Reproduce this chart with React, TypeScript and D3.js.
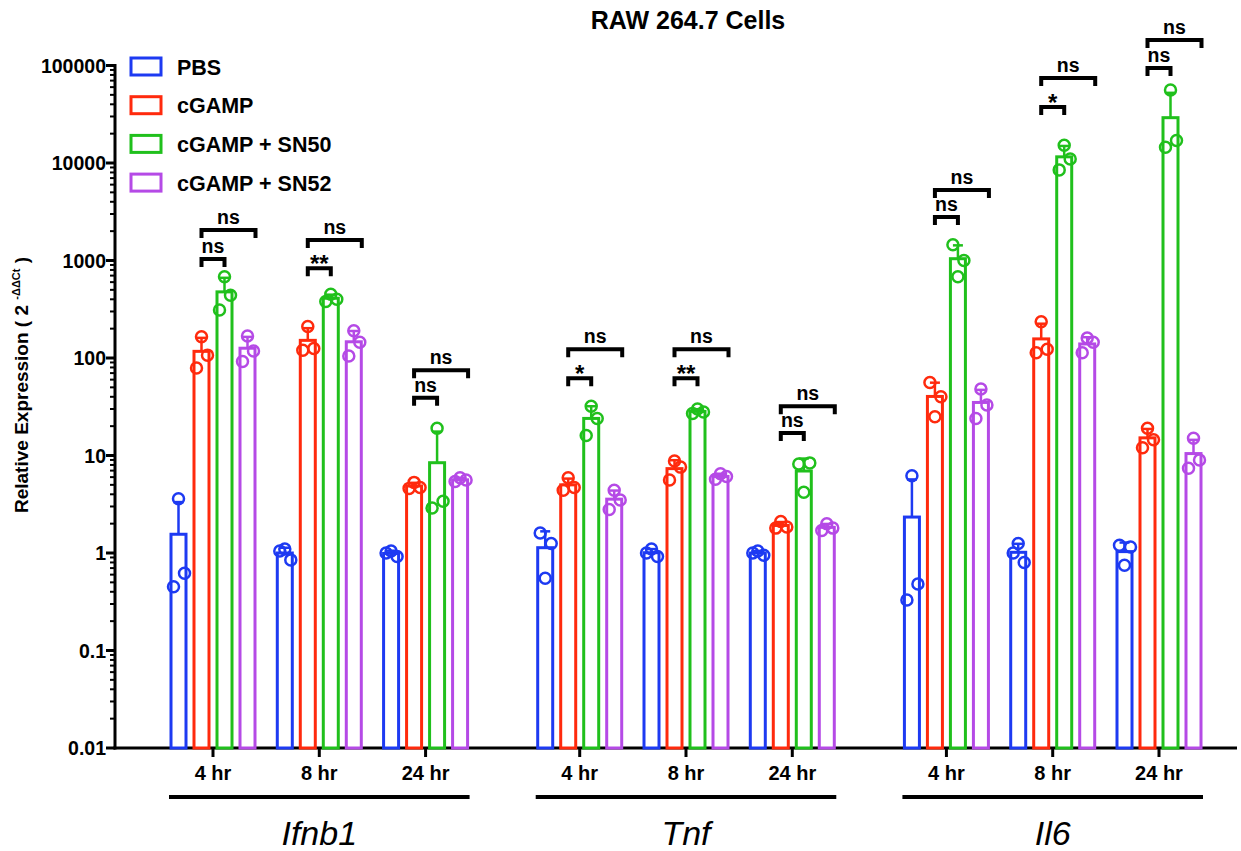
import * as d3 from "d3";

// categories
const genes = ["Ifnb1", "Tnf", "Il6"];
const times = ["4 hr", "8 hr", "24 hr"];
const treatments = ["PBS", "cGAMP", "cGAMP + SN50", "cGAMP + SN52"];
const colors = ["#1d3af2", "#ff2a0d", "#20c01c", "#b54ae6"];

// replicate values (left, middle, right) for each gene x time group
const pbsPoints = [
    [0.45, 3.6, 0.62], [1.05, 1.1, 0.85], [1.0, 1.05, 0.92],
    [1.6, 0.55, 1.25], [1.0, 1.1, 0.92], [1.0, 1.05, 0.95],
    [0.33, 6.2, 0.48], [1.0, 1.25, 0.8], [1.2, 0.75, 1.15],
];
const cgampPoints = [
    [79, 165, 107], [120, 210, 125], [4.6, 5.3, 4.7],
    [4.4, 5.9, 4.7], [5.6, 8.8, 7.6], [1.8, 2.1, 1.85],
    [56, 25, 40], [113, 235, 123], [12, 19, 14.5],
];
const sn50Points = [
    [310, 680, 440], [380, 450, 400], [2.9, 19, 3.4],
    [16, 32, 24], [27, 30, 28], [8.2, 4.2, 8.4],
    [1450, 680, 1000], [8500, 15200, 11000], [14500, 56000, 17000],
];
const sn52Points = [
    [92, 168, 118], [105, 190, 145], [5.4, 5.9, 5.6],
    [2.8, 4.4, 3.5], [5.7, 6.5, 6.1], [1.7, 2.0, 1.8],
    [24, 48, 33], [113, 160, 145], [7.4, 15, 9],
];

// significance brackets (level on the y axis)
const smallLabels = ["ns", "**", "ns", "*", "**", "ns", "ns", "*", "ns"];
const largeLabels = ["ns", "ns", "ns", "ns", "ns", "ns", "ns", "ns", "ns"];
const smallLevel = [1035, 835, 39, 62, 62, 17, 2790, 37500, 94000];
const largeLevel = [2050, 1620, 75, 123, 123, 32, 5300, 74600, 183000];

const yTicks = [0.01, 0.1, 1, 10, 100, 1000, 10000, 100000];
const yTickLabels = ["0.01", "0.1", "1", "10", "100", "1000", "10000", "100000"];

const allPoints = [pbsPoints, cgampPoints, sn50Points, sn52Points];

function App() {
    const width = 1241;
    const height = 851;
    const axisX = 115;
    const axisY = 748;
    const font = "'Liberation Sans', Arial, sans-serif";

    const yScale = d3.scaleLog().domain([0.01, 100000]).range([axisY, 65.5]);

    // slot position of each group, with a gap between genes
    const slot = (g) => Math.floor(g / 3) * 3.45 + (g % 3);
    const xScale = d3.scaleLinear().domain([0, 8.9]).range([213, 1159]);
    const inner = d3.scaleBand().domain(treatments).range([-46, 46]).paddingInner(0);

    const barW = 15;
    const offsets = [-5, 0, 6];

    const minorTicks = yScale.ticks().filter(t => !yTicks.some(m => Math.abs(m - t) / m < 1e-6));

    const groups = d3.range(9);

    return (
        <div>
            <style>{`body{margin:0;background:#fff}`}</style>
            <svg width={width} height={height} style={{display: "block", fontFamily: font}}>
                <text x={688} y={29} textAnchor="middle" fontWeight="bold" fontSize={25}>RAW 264.7 Cells</text>

                {/* y axis */}
                <line x1={axisX} x2={axisX} y1={yScale(100000) - 1.5} y2={axisY + 1.5} stroke="#000" strokeWidth={3}/>
                {yTicks.map((t, i) =>
                    <g key={"yt" + i}>
                        <line x1={axisX - 9} x2={axisX} y1={yScale(t)} y2={yScale(t)} stroke="#000" strokeWidth={3}/>
                        <text x={axisX - 9} y={yScale(t) + 7} textAnchor="end" fontWeight="bold"
                              fontSize={19.5}>{yTickLabels[i]}</text>
                    </g>
                )}
                {minorTicks.map((t, i) =>
                    <line key={"ym" + i} x1={axisX - 5} x2={axisX} y1={yScale(t)} y2={yScale(t)} stroke="#000"
                          strokeWidth={2}/>
                )}
                <text transform={`translate(28, 385) rotate(-90)`} textAnchor="middle" fontWeight="bold" fontSize={19}>
                    Relative Expression ( 2 <tspan fontSize={11} dy={-8}>-ΔΔCt</tspan><tspan dy={8}> )</tspan>
                </text>

                {/* x axis */}
                <line x1={axisX - 1.5} x2={1237} y1={axisY} y2={axisY} stroke="#000" strokeWidth={3}/>

                {/* bars, error bars, points */}
                {groups.map(g => {
                    const cx = xScale(slot(g));
                    return (
                        <g key={"grp" + g}>
                            {treatments.map((tr, k) => {
                                const pts = allPoints[k][g];
                                const mean = d3.mean(pts);
                                const sd = d3.deviation(pts);
                                const bx = cx + inner(tr) + inner.bandwidth() / 2;
                                const top = yScale(mean);
                                const errTop = yScale(mean + sd);
                                return (
                                    <g key={tr}>
                                        <rect x={bx - barW / 2} y={top} width={barW} height={axisY - top}
                                              fill="white" stroke={colors[k]} strokeWidth={3}/>
                                        <line x1={bx} x2={bx} y1={top} y2={errTop} stroke={colors[k]} strokeWidth={2.5}/>
                                        <line x1={bx - 5} x2={bx + 5} y1={errTop} y2={errTop} stroke={colors[k]}
                                              strokeWidth={2.5}/>
                                        {pts.map((p, j) =>
                                            <circle key={j} cx={bx + offsets[j]} cy={yScale(p)} r={5.5} fill="none"
                                                    stroke={colors[k]} strokeWidth={2.5}/>
                                        )}
                                    </g>
                                );
                            })}
                            <line x1={cx} x2={cx} y1={axisY} y2={axisY + 9} stroke="#000" strokeWidth={3}/>
                            <text x={cx} y={780} textAnchor="middle" fontWeight="bold" fontSize={20}>{times[g % 3]}</text>
                        </g>
                    );
                })}

                {/* significance brackets */}
                {groups.map(g => {
                    const cx = xScale(slot(g));
                    const xr = cx + inner("cGAMP") + inner.bandwidth() / 2;
                    const xg = cx + inner("cGAMP + SN50") + inner.bandwidth() / 2;
                    const xp = cx + inner("cGAMP + SN52") + inner.bandwidth() / 2 + 8;
                    const ys = yScale(smallLevel[g]);
                    const yl = yScale(largeLevel[g]);
                    return (
                        <g key={"br" + g}>
                            <path d={`M${xr},${ys + 8}V${ys}H${xg}V${ys + 8}`} fill="none" stroke="#000" strokeWidth={4}/>
                            <text x={(xr + xg) / 2} y={ys - 6} textAnchor="middle" fontWeight="bold"
                                  fontSize={smallLabels[g] === "ns" ? 19.5 : 24}
                                  dy={smallLabels[g] === "ns" ? 0 : 10}>{smallLabels[g]}</text>
                            <path d={`M${xr},${yl + 8}V${yl}H${xp}V${yl + 8}`} fill="none" stroke="#000" strokeWidth={4}/>
                            <text x={(xr + xp) / 2} y={yl - 6} textAnchor="middle" fontWeight="bold"
                                  fontSize={19.5}>{largeLabels[g]}</text>
                        </g>
                    );
                })}

                {/* gene labels */}
                {genes.map((gene, i) => {
                    const x0 = xScale(slot(i * 3)) - 44;
                    const x1 = xScale(slot(i * 3 + 2)) + 44;
                    return (
                        <g key={gene}>
                            <line x1={x0} x2={x1} y1={797} y2={797} stroke="#000" strokeWidth={4}/>
                            <text x={(x0 + x1) / 2} y={845} textAnchor="middle" fontStyle="italic"
                                  fontSize={34}>{gene}</text>
                        </g>
                    );
                })}

                {/* legend */}
                {treatments.map((tr, i) =>
                    <g key={"lg" + i} transform={`translate(131, ${58 + i * 38.7})`}>
                        <rect x={0} y={0} width={30} height={17} fill="white" stroke={colors[i]} strokeWidth={3}/>
                        <text x={46} y={16.5} fontWeight="bold" fontSize={21.5}>{tr}</text>
                    </g>
                )}
            </svg>
        </div>
    );
}

export default App;
